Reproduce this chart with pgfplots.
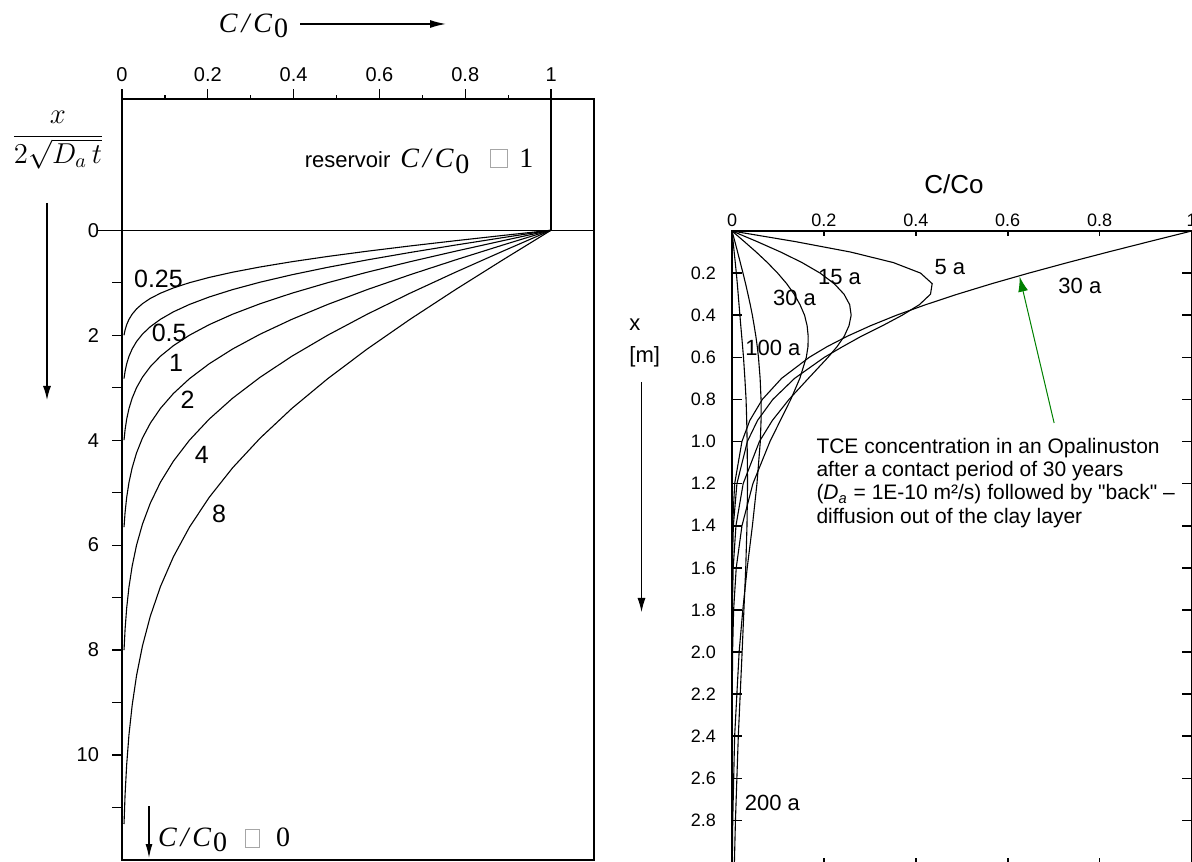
\documentclass[border=0pt]{standalone}
\usepackage{pgfplots}
\pgfplotsset{compat=1.18}
\usepackage{pgfplotstable}
\usetikzlibrary{arrows.meta}
\usepackage{fontspec}
\setmainfont{Liberation Sans}
\newfontfamily\tms{Liberation Serif}
\newfontfamily\plainsans{Liberation Sans}
\definecolor{arrgreen}{RGB}{0,128,0}
\newcommand{\gbox}[2]{{\color{black!35}\setlength{\fboxsep}{0pt}\setlength{\fboxrule}{0.5pt}\fbox{\rule{0pt}{#2}\rule{#1}{0pt}}}}
\newcommand{\CC}{{\fontsize{14}{16}\selectfont\tms\itshape C\kern2pt/\kern2pt C}\kern1pt\raisebox{-0.5ex}{\fontsize{14}{16}\selectfont\tms 0}}

% left panel: C/C0 against x/(2 sqrt(Da t)) for the six curves
\pgfplotstableread{
C       y025  y05     y1   y2      y4   y8
1.0000  0.0   0.0000  0.0  0.0000  0.0  0.0000
0.8875  0.1   0.1414  0.2  0.2828  0.4  0.5657
0.7773  0.2   0.2828  0.4  0.5657  0.8  1.1314
0.6714  0.3   0.4243  0.6  0.8485  1.2  1.6971
0.5716  0.4   0.5657  0.8  1.1314  1.6  2.2627
0.4795  0.5   0.7071  1.0  1.4142  2.0  2.8284
0.3961  0.6   0.8485  1.2  1.6971  2.4  3.3941
0.3222  0.7   0.9899  1.4  1.9799  2.8  3.9598
0.2579  0.8   1.1314  1.6  2.2627  3.2  4.5255
0.2031  0.9   1.2728  1.8  2.5456  3.6  5.0912
0.1573  1.0   1.4142  2.0  2.8284  4.0  5.6569
0.1198  1.1   1.5556  2.2  3.1113  4.4  6.2225
0.0897  1.2   1.6971  2.4  3.3941  4.8  6.7882
0.0660  1.3   1.8385  2.6  3.6770  5.2  7.3539
0.0477  1.4   1.9799  2.8  3.9598  5.6  7.9196
0.0339  1.5   2.1213  3.0  4.2426  6.0  8.4853
0.0237  1.6   2.2627  3.2  4.5255  6.4  9.0510
0.0162  1.7   2.4042  3.4  4.8083  6.8  9.6167
0.0109  1.8   2.5456  3.6  5.0912  7.2  10.1823
0.0072  1.9   2.6870  3.8  5.3740  7.6  10.7480
0.0047  2.0   2.8284  4.0  5.6569  8.0  11.3137
}\leftdata

% right panel: depth x [m] and C/Co of each profile
\pgfplotstableread{
y     init    c5      c15     c30     c100    c200
0.00  1.0000  0.0000  0.0000  0.0000  0.0000  0.0000
0.05  0.9086  0.1370  0.0543  0.0266  0.0062  0.0024
0.10  0.8183  0.2582  0.1059  0.0527  0.0122  0.0047
0.15  0.7304  0.3511  0.1524  0.0771  0.0180  0.0071
0.20  0.6460  0.4103  0.1917  0.0993  0.0239  0.0094
0.25  0.5658  0.4356  0.2223  0.1189  0.0295  0.0115
0.30  0.4908  0.4320  0.2437  0.1352  0.0347  0.0134
0.35  0.4215  0.4078  0.2561  0.1480  0.0397  0.0153
0.40  0.3580  0.3704  0.2593  0.1579  0.0443  0.0172
0.45  0.3014  0.3274  0.2546  0.1635  0.0482  0.0191
0.50  0.2508  0.2814  0.2442  0.1658  0.0519  0.0211
0.55  0.2064  0.2402  0.2284  0.1653  0.0550  0.0231
0.60  0.1682  0.2010  0.2090  0.1617  0.0576  0.0250
0.70  0.1079  0.1363  0.1663  0.1476  0.0612  0.0280
0.80  0.0660  0.0888  0.1241  0.1279  0.0632  0.0306
0.90  0.0387  0.0555  0.0878  0.1052  0.0632  0.0320
1.00  0.0216  0.0334  0.0596  0.0826  0.0616  0.0329
1.20  0.0058  0.0107  0.0243  0.0455  0.0543  0.0338
1.40  0.0013  0.0029  0.0086  0.0217  0.0444  0.0326
1.60  0.0002  0.0007  0.0026  0.0092  0.0331  0.0299
1.80  0.0000  0.0001  0.0007  0.0035  0.0235  0.0259
2.00  0.0000  0.0000  0.0002  0.0012  0.0155  0.0220
2.40  0.0000  0.0000  0.0000  0.0001  0.0057  0.0137
2.80  0.0000  0.0000  0.0000  0.0000  0.0016  0.0075
3.00  0.0000  0.0000  0.0000  0.0000  0.0007  0.0052
}\rightdata

\begin{document}
\begin{tikzpicture}[x=1pt,y=1pt]
\useasboundingbox (0,0) rectangle (596,430.5);
\clip (0,0) rectangle (596,430.5);

% ---------------- left panel ----------------
\begin{axis}[
  at={(61pt,0.5pt)}, anchor=south west,
  width=236pt, height=380.5pt, scale only axis,
  xmin=0, xmax=1.1, ymin=-2.5, ymax=12, y dir=reverse,
  xtick={0,0.2,0.4,0.6,0.8,1}, minor x tick num=1,
  xtick pos=right, xticklabel pos=right,
  ytick={0,2,4,6,8,10}, ytick pos=left,
  extra y ticks={1,3,5,7,9,11}, extra y tick labels={},
  tick align=outside,
  major tick length=5pt, minor tick length=2pt,
  every tick/.style={black, line width=0.6pt},
  axis line style={line width=0.7pt},
  /pgf/number format/assume math mode=true,
  xticklabel={\fontsize{10}{12}\selectfont\pgfmathprintnumber{\tick}},
  yticklabel={\fontsize{10}{12}\selectfont\pgfmathprintnumber{\tick}},
  yticklabel style={xshift=-3pt},
  clip=false,
]
\addplot[black, line width=0.55pt] table[x=C, y=y025] {\leftdata};
\addplot[black, line width=0.55pt] table[x=C, y=y05] {\leftdata};
\addplot[black, line width=0.55pt] table[x=C, y=y1] {\leftdata};
\addplot[black, line width=0.55pt] table[x=C, y=y2] {\leftdata};
\addplot[black, line width=0.55pt] table[x=C, y=y4] {\leftdata};
\addplot[black, line width=0.55pt] table[x=C, y=y8] {\leftdata};
\draw[line width=0.7pt] (axis cs:-0.058,0) -- (axis cs:1.1,0);
\draw[line width=0.7pt] (axis cs:1,-2.5) -- (axis cs:1,0);
\begin{scope}[every node/.style={font=\fontsize{12.5}{14}\selectfont, inner sep=0pt}]
\node at (axis cs:0.085,0.92) {0.25};
\node at (axis cs:0.110,1.95) {0.5};
\node at (axis cs:0.126,2.52) {1};
\node at (axis cs:0.153,3.24) {2};
\node at (axis cs:0.186,4.29) {4};
\node at (axis cs:0.226,5.40) {8};
\end{scope}
\node[inner sep=0pt, anchor=base west] at (axis cs:0.425,-1.2)
  {\fontsize{11}{13}\selectfont reservoir\hspace{5pt}\CC\hspace{10.5pt}\gbox{8pt}{8.5pt}\hspace{5.5pt}{\fontsize{14}{16}\selectfont\tms 1}};
\end{axis}

% left outer labels
\node[font=\fontsize{14}{16}\selectfont] at (29,360.5) {$\displaystyle\frac{x}{2\sqrt{D_a\,t}}$};
\draw[line width=0.6pt, -{Latex[length=7pt,width=4pt]}] (23.5,329) -- (23.5,230.5);
\node[inner sep=0pt] at (126.75,417.5) {\CC};
\draw[line width=0.7pt, -{Latex[length=8pt,width=4pt]}] (150,418.5) -- (223,418.5);
\draw[line width=0.6pt, -{Latex[length=7pt,width=3.5pt]}] (74.5,27.5) -- (74.5,1.5);
\node[inner sep=0pt, anchor=west] at (78.8,10.5)
  {\CC\hspace{9pt}\gbox{6.5pt}{8.5pt}\hspace{8pt}{\fontsize{14}{16}\selectfont\tms 0}};

% ---------------- right panel ----------------
\begin{axis}[
  at={(366pt,-0.75pt)}, anchor=south west,
  width=229.75pt, height=315.75pt, scale only axis,
  xmin=0, xmax=1, ymin=0, ymax=3, y dir=reverse,
  xtick={0,0.2,0.4,0.6,0.8,1}, xticklabel pos=right, xtick pos=both,
  ytick={0.2,0.4,0.6,0.8,1.0,1.2,1.4,1.6,1.8,2.0,2.2,2.4,2.6,2.8},
  tick align=inside,
  major tick length=5pt,
  xtick style={/pgfplots/major tick length=2.5pt},
  every tick/.style={black, line width=0.8pt},
  axis line style={line width=0.7pt},
  /pgf/number format/assume math mode=true,
  xticklabel={\fontsize{9}{11}\selectfont\pgfmathprintnumber{\tick}},
  yticklabel={\fontsize{9}{11}\selectfont\pgfmathprintnumber[fixed, fixed zerofill, precision=1]{\tick}},
  yticklabel style={xshift=-4.5pt},
  xticklabel style={yshift=-1.5pt},
  clip=false,
]
\addplot[black, line width=0.55pt] table[x=init, y=y] {\rightdata};
\addplot[black, line width=0.55pt] table[x=c5, y=y] {\rightdata};
\addplot[black, line width=0.55pt] table[x=c15, y=y] {\rightdata};
\addplot[black, line width=0.55pt] table[x=c30, y=y] {\rightdata};
\addplot[black, line width=0.55pt] table[x=c100, y=y] {\rightdata};
\addplot[black, line width=0.55pt] table[x=c200, y=y] {\rightdata};
\begin{scope}[every node/.style={font=\fontsize{11}{13}\selectfont, inner sep=0pt}]
\node at (axis cs:0.474,0.170) {5 a};
\node at (axis cs:0.234,0.217) {15 a};
\node at (axis cs:0.136,0.320) {30 a};
\node at (axis cs:0.089,0.557) {100 a};
\node at (axis cs:0.757,0.261) {30 a};
\node at (axis cs:0.088,2.719) {200 a};
\end{scope}
\draw[arrgreen, line width=0.5pt, -{Latex[length=7.5pt,width=5pt]}] (axis cs:0.701,0.912) -- (axis cs:0.626,0.217);
\node[anchor=north west, inner sep=0pt, align=left, font=\fontsize{10.5}{11.7}\selectfont]
  at (axis cs:0.183,0.981)
  {TCE concentration in an Opalinuston\\after a contact period of 30 years\\({\itshape D}\textsubscript{\itshape a} = 1E-10 m²/s) followed by {\plainsans"back"} –\\diffusion out of the clay layer};
\end{axis}

% right outer labels
\node[font=\fontsize{13}{15}\selectfont] at (477,338.5) {C/Co};
\node[anchor=west, inner sep=0pt, font=\fontsize{11}{13}\selectfont] at (314.5,268) {x};
\node[anchor=west, inner sep=0pt, font=\fontsize{11}{13}\selectfont] at (314.5,252) {[m]};
\draw[line width=0.5pt, -{Latex[length=7pt,width=4pt]}] (320.75,239.5) -- (320.75,124.5);
\end{tikzpicture}
\end{document}
